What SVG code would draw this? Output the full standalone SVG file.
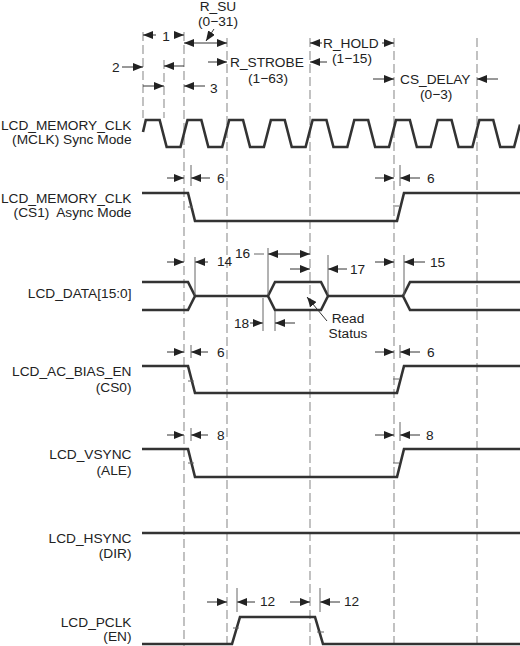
<svg xmlns="http://www.w3.org/2000/svg" width="520" height="646" viewBox="0 0 520 646">
<defs>
<marker id="ah" viewBox="0 0 10 8" refX="10" refY="4" markerWidth="10" markerHeight="8" markerUnits="userSpaceOnUse" orient="auto-start-reverse">
<path d="M0,0 L10,4 L0,8 z" fill="#222"/>
</marker>
<style>
.w{fill:none;stroke:#333;stroke-width:2.6;stroke-linejoin:miter}
.d{fill:none;stroke:#999;stroke-width:1.2;stroke-dasharray:9 4}
.a{fill:none;stroke:#333;stroke-width:1;marker-end:url(#ah)}
.b{fill:none;stroke:#333;stroke-width:1;marker-start:url(#ah);marker-end:url(#ah)}
.x{fill:none;stroke:#666;stroke-width:1}
.t{font-family:"Liberation Sans",Arial,sans-serif;font-size:13.7px;fill:#222}
.l{text-anchor:end}
.c{text-anchor:middle}
</style>
</defs>
<rect width="520" height="646" fill="#fff"/>

<g id="gridlines">
<path class="d" d="M143,32V118 M164,60V118 M184,32V646 M227,38V646 M310,38V646 M394,38V646 M477,38V646"/>
</g>

<g id="timing-annotations">
<!-- 1 -->
<path class="a" d="M156,35H143"/><path class="a" d="M176,35H184"/>
<text class="t c" x="166" y="41">1</text>
<!-- R_SU -->
<text class="t c" x="218" y="11">R_SU</text>
<text class="t c" x="218" y="26">(0−31)</text>
<path class="a" d="M214,29L206,41"/>
<path class="b" d="M184,43H227"/>
<!-- 2 -->
<text class="t" x="112" y="72">2</text>
<path class="a" d="M122,67H143"/>
<path class="a" d="M184,66H164"/>
<!-- 3 -->
<path class="a" d="M143,86H164"/>
<path class="a" d="M205,86H184"/>
<text class="t" x="210" y="93">3</text>
<!-- R_STROBE -->
<path class="a" d="M208,62H227"/>
<text class="t" x="230" y="67">R_STROBE</text>
<text class="t" x="248" y="83">(1−63)</text>
<path class="a" d="M327,62H310"/>
<!-- R_HOLD -->
<path class="a" d="M322,43H310"/>
<text class="t" x="323" y="48">R_HOLD</text>
<path class="a" d="M382,43H394"/>
<text class="t" x="332" y="63">(1−15)</text>
<!-- CS_DELAY -->
<path class="a" d="M373,79H394"/>
<text class="t" x="400" y="84">CS_DELAY</text>
<text class="t" x="420" y="99">(0−3)</text>
<path class="a" d="M498,79H477"/>
</g>

<g id="mclk-sync">
<text class="t l" x="131.5" y="130">LCD_MEMORY_CLK</text>
<text class="t l" x="131.5" y="144">(MCLK) Sync Mode</text>
<path class="w" d="M143,132 L145.8,120 H159.65 L166.65,147 H180.5 L187.5,120 H201.35 L208.35,147 H222.2 L229.2,120 H243.05 L250.05,147 H263.9 L270.9,120 H284.75 L291.75,147 H305.6 L312.6,120 H326.45 L333.45,147 H347.3 L354.3,120 H368.15 L375.15,147 H389 L396,120 H409.85 L416.85,147 H430.7 L437.7,120 H451.55 L458.55,147 H472.4 L479.4,120 H493.25 L500.25,147 H514.1 L520,124.5"/>
</g>

<g id="mclk-async">
<text class="t l" x="131.5" y="203">LCD_MEMORY_CLK</text>
<text class="t l" x="131.5" y="217" xml:space="preserve">(CS1)  Async Mode</text>
<path class="w" d="M142,193 H188 L195,221 H397 L404,193 H520"/>
<path class="a" d="M167,178H184"/><path class="a" d="M210,178H191"/>
<path class="x" d="M191,165V186 M188,207H193"/>
<text class="t" x="217" y="183">6</text>
<path class="a" d="M375,178H394"/><path class="a" d="M420,178H400"/>
<path class="x" d="M400,165V186 M393,206H399"/>
<text class="t" x="427" y="183">6</text>
</g>

<g id="lcd-data">
<text class="t l" x="131.5" y="298">LCD_DATA[15:0]</text>
<path class="w" d="M142,282 H188 L195,296 L188,310 H142"/>
<path class="w" d="M195,296 H268"/>
<path class="w" d="M268,296 L275,282 H321 L328,296 L321,310 H275 Z"/>
<path class="w" d="M328,296 H403"/>
<path class="w" d="M520,282 H410 L403,296 L410,310 H520"/>
<!-- 14 -->
<path class="a" d="M167,262H184"/><path class="a" d="M208,262H195"/>
<path class="x" d="M195,257V295"/>
<text class="t" x="217" y="266">14</text>
<!-- 16 -->
<text class="t" x="235" y="258">16</text>
<path class="x" d="M254,254H264"/>
<path class="b" d="M268,254H310"/>
<path class="x" d="M268,248V295"/>
<!-- 17 -->
<path class="a" d="M290,269H310"/><path class="a" d="M347,269H328"/>
<path class="x" d="M328,255V295"/>
<text class="t" x="350" y="274">17</text>
<!-- 15 -->
<path class="a" d="M375,262H394"/><path class="a" d="M425,262H404"/>
<path class="x" d="M404,255V295"/>
<text class="t" x="430" y="267">15</text>
<!-- 18 -->
<text class="t" x="234" y="328">18</text>
<path class="a" d="M250,323H263"/>
<path class="x" d="M263,298V331 M275,311V331"/>
<path class="a" d="M295,323H275"/>
<!-- Read Status -->
<path class="a" d="M327,321L307,297"/>
<text class="t c" x="348" y="323">Read</text>
<text class="t c" x="348" y="338">Status</text>
</g>

<g id="ac-bias">
<text class="t l" x="131.5" y="376">LCD_AC_BIAS_EN</text>
<text class="t l" x="131.5" y="392">(CS0)</text>
<path class="w" d="M142,366 H188 L195,393 H397 L404,366 H520"/>
<path class="a" d="M167,352H184"/><path class="a" d="M208,352H191"/>
<path class="x" d="M191,345V358 M188,381H194"/>
<text class="t" x="217" y="357">6</text>
<path class="a" d="M375,352H394"/><path class="a" d="M420,352H400"/>
<path class="x" d="M400,345V358 M393,379H399"/>
<text class="t" x="427" y="357">6</text>
</g>

<g id="vsync">
<text class="t l" x="131.5" y="459">LCD_VSYNC</text>
<text class="t l" x="131.5" y="475">(ALE)</text>
<path class="w" d="M142,449 H188 L195,477 H397 L404,449 H520"/>
<path class="a" d="M167,435H184"/><path class="a" d="M208,435H191"/>
<path class="x" d="M191,428V441 M188,463H194"/>
<text class="t" x="217" y="440">8</text>
<path class="a" d="M375,435H394"/><path class="a" d="M420,435H400"/>
<path class="x" d="M400,422V441 M393,463H399"/>
<text class="t" x="426" y="440">8</text>
</g>

<g id="hsync">
<text class="t l" x="131.5" y="543">LCD_HSYNC</text>
<text class="t l" x="131.5" y="558">(DIR)</text>
<path class="w" d="M142,533 H520"/>
</g>

<g id="pclk">
<text class="t l" x="131.5" y="627">LCD_PCLK</text>
<text class="t l" x="131.5" y="641">(EN)</text>
<path class="w" d="M142,644 H232 L240,617 H315 L323,644 H520"/>
<path class="a" d="M207,602H227"/><path class="a" d="M255,602H237"/>
<path class="x" d="M237,588V612 M233,628H239"/>
<text class="t" x="260" y="606">12</text>
<path class="a" d="M290,602H310"/><path class="a" d="M340,602H320"/>
<path class="x" d="M320,588V612 M317,632H324"/>
<text class="t" x="344" y="606">12</text>
</g>
</svg>
